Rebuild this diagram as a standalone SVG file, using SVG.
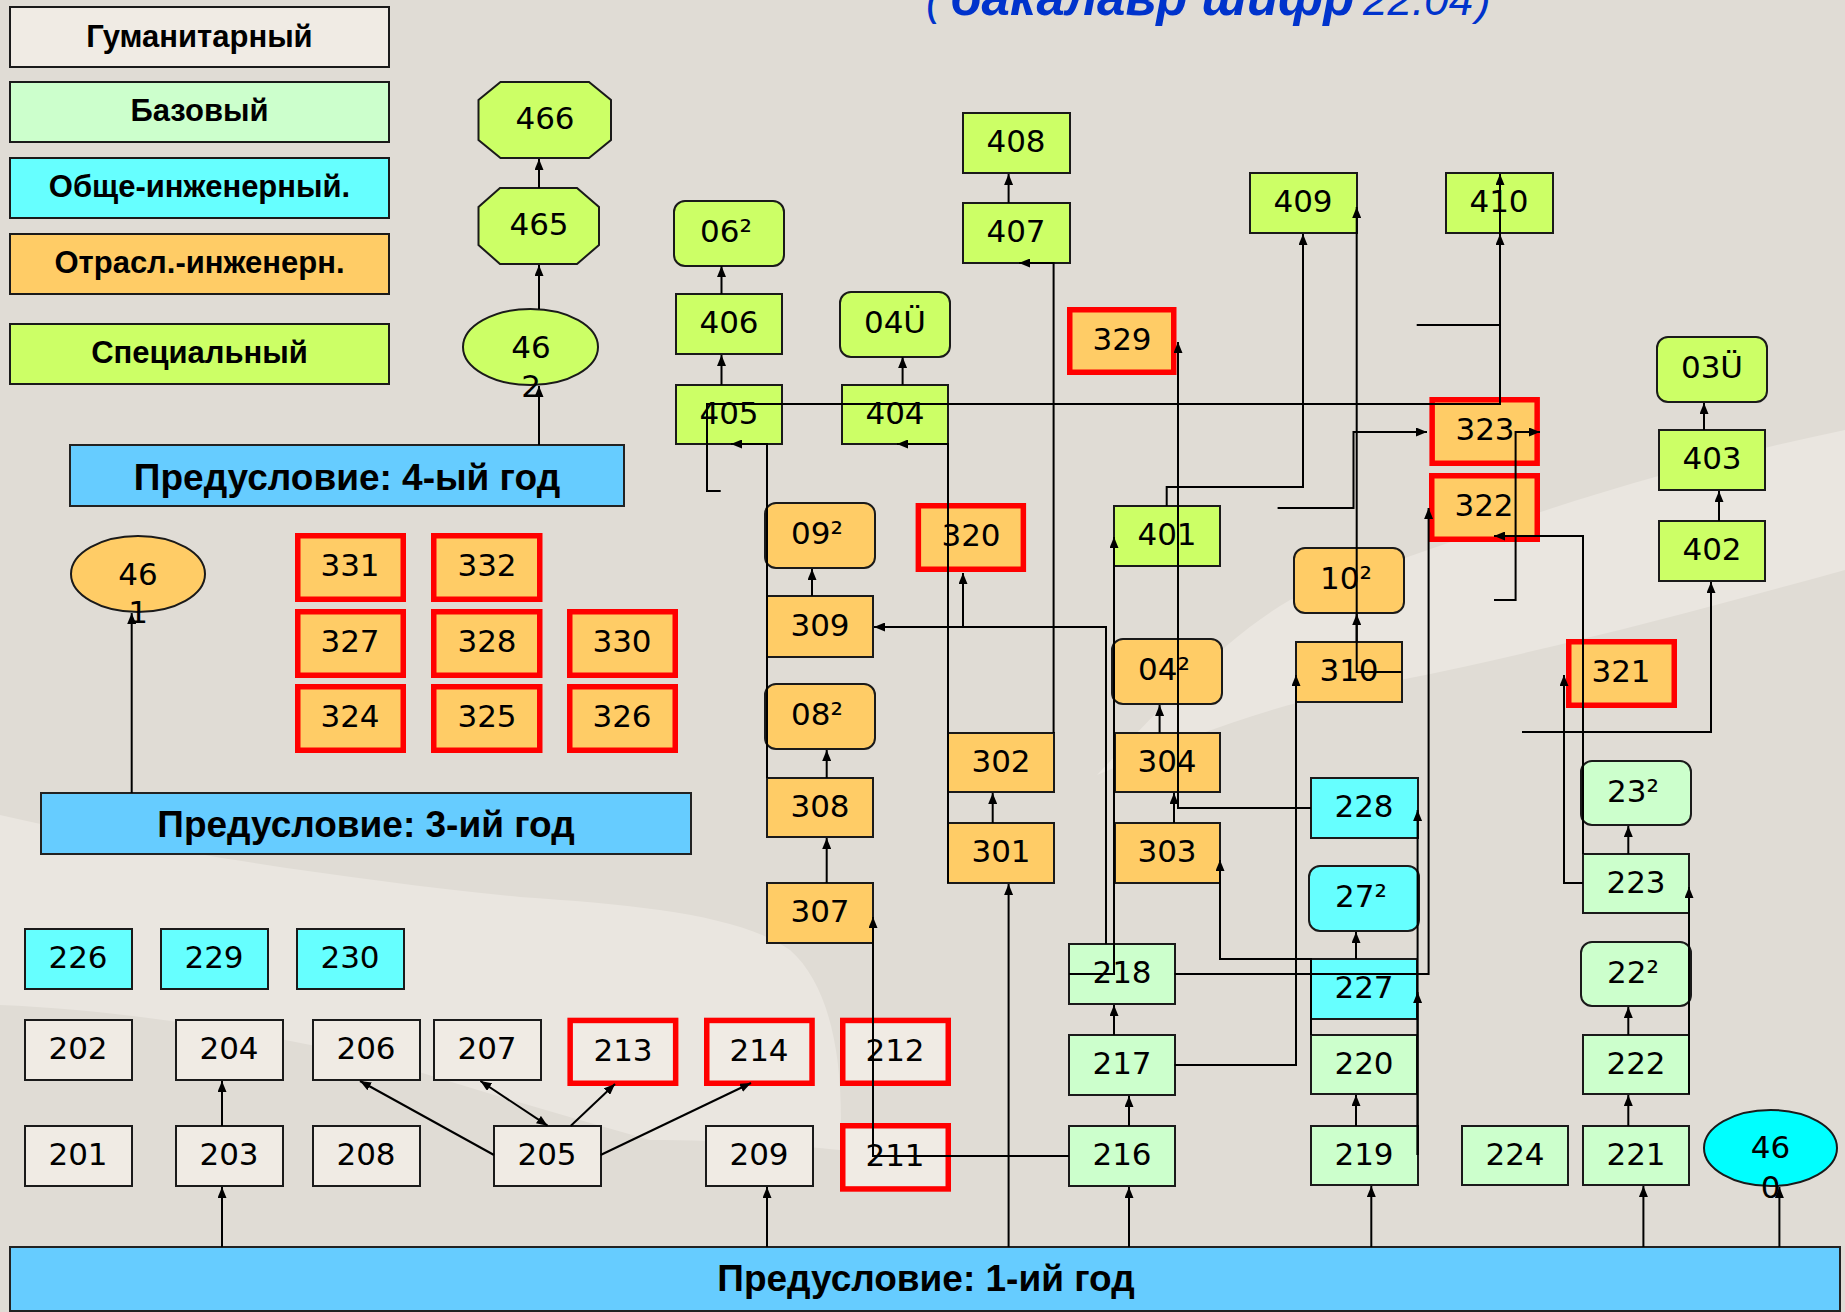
<svg xmlns="http://www.w3.org/2000/svg" width="1845" height="1312" viewBox="0 0 1845 1312">
<style>
.hum{fill:#F0EBE4}.base{fill:#CCFFCC}.gen{fill:#66FFFF}.ind{fill:#FFCC66}.spec{fill:#CCFF66}
.b{stroke:#1a1a1a;stroke-width:2}
.r{stroke:#FF0000;stroke-width:5.5}
.t{font-family:"DejaVu Sans",Verdana,sans-serif;font-size:31px;text-anchor:middle;fill:#000}
.lg{font-family:"Liberation Sans",Arial,sans-serif;font-weight:bold;font-size:31px;text-anchor:middle;fill:#000}
.bar{fill:#66CCFF;stroke:#222;stroke-width:2}
.bt{font-family:"Liberation Sans",Arial,sans-serif;font-weight:bold;font-size:37px;text-anchor:middle;fill:#000}
.c{fill:none;stroke:#000;stroke-width:2;marker-end:url(#ah)}
.s{fill:none;stroke:#000;stroke-width:2}
.d{fill:none;stroke:#000;stroke-width:2;marker-end:url(#ah);marker-start:url(#ah)}
</style>
<defs>
<marker id="ah" markerUnits="userSpaceOnUse" markerWidth="12" markerHeight="9" refX="11" refY="4.5" orient="auto-start-reverse"><path d="M0,0 L11,4.5 L0,9 z" fill="#000"/></marker>
</defs>
<rect x="0" y="0" width="1845" height="1312" fill="#E0DCD5"/>
<g id="background" fill="#EAE6E0">
<path d="M1097,775 C1150,720 1220,640 1290,600 C1450,540 1650,470 1845,430 L1845,570 C1700,610 1550,650 1400,680 C1280,700 1180,740 1097,775 Z"/>
<path d="M0,815 C150,850 350,880 520,897 C640,905 740,915 790,950 C830,985 845,1060 840,1150 C790,1145 720,1140 650,1140 C560,1115 470,1088 380,1060 C250,1030 120,1010 0,1005 Z"/>
</g>
<text x="926" y="15" font-family="Liberation Sans, Arial, sans-serif" font-size="44" font-style="italic" fill="#0033CC">(<tspan x="950" font-weight="bold" font-size="51">бакалавр шифр</tspan><tspan x="1363">22.04</tspan><tspan x="1476">)</tspan></text>

<g id="legend">
<g id="leg-hum"><rect class="hum b" x="10" y="7" width="379" height="60"/><text class="lg" x="199.5" y="47">Гуманитарный</text></g>
<g id="leg-base"><rect class="base b" x="10" y="82" width="379" height="60"/><text class="lg" x="199.5" y="121">Базовый</text></g>
<g id="leg-gen"><rect class="gen b" x="10" y="158" width="379" height="60"/><text class="lg" x="199.5" y="197">Обще-инженерный.</text></g>
<g id="leg-ind"><rect class="ind b" x="10" y="234" width="379" height="60"/><text class="lg" x="199.5" y="273">Отрасл.-инженерн.</text></g>
<g id="leg-spec"><rect class="spec b" x="10" y="324" width="379" height="60"/><text class="lg" x="199.5" y="363">Специальный</text></g>
</g>

<g id="bars">
<g id="bar4"><rect class="bar" x="70" y="445" width="554" height="61"/><text class="bt" x="347" y="490" font-size="38.5">Предусловие: 4-ый год</text></g>
<g id="bar3"><rect class="bar" x="41" y="793" width="650" height="61"/><text class="bt" x="366" y="837">Предусловие: 3-ий год</text></g>
<g id="bar1"><rect class="bar" x="10" y="1247" width="1830" height="64"/><text class="bt" x="926" y="1291">Предусловие: 1-ий год</text></g>
</g>

<g id="n466"><polygon class="spec b" points="500.5,82 589,82 611,100 611,140 589,158 500.5,158 478.5,140 478.5,100"/><text class="t" x="545" y="129">466</text></g>
<g id="n465"><polygon class="spec b" points="500,188 577,188 599,207 599,245 577,264 500,264 478.5,245 478.5,207"/><text class="t" x="539" y="235">465</text></g>
<g id="n462"><ellipse class="spec b" cx="530.5" cy="347" rx="67.5" ry="38"/><text class="t" x="531" y="358">46</text><text class="t" x="531" y="397">2</text></g>
<g id="n461"><ellipse class="ind b" cx="138" cy="574" rx="67" ry="38"/><text class="t" x="138" y="585">46</text><text class="t" x="138" y="623">1</text></g>
<g id="n460"><ellipse class="b" fill="#00FFFF" cx="1770.5" cy="1148" rx="66.5" ry="38"/><text class="t" x="1770.5" y="1158">46</text><text class="t" x="1770.5" y="1198">0</text></g>

<g id="n408"><rect class="spec b" x="963" y="113" width="107" height="60"/><text class="t" x="1016" y="152">408</text></g>
<g id="n407"><rect class="spec b" x="963" y="203" width="107" height="60"/><text class="t" x="1016" y="242">407</text></g>
<g id="n062"><rect class="spec b" x="674" y="201" width="110" height="65" rx="11"/><text class="t" x="726" y="242">06²</text></g>
<g id="n406"><rect class="spec b" x="676" y="294" width="106" height="60"/><text class="t" x="729" y="333">406</text></g>
<g id="n04U"><rect class="spec b" x="840" y="292" width="110" height="65" rx="11"/><text class="t" x="895" y="333">04Ü</text></g>
<g id="n405"><rect class="spec b" x="676" y="385" width="106" height="59"/><text class="t" x="729" y="424">405</text></g>
<g id="n404"><rect class="spec b" x="842" y="385" width="106" height="59"/><text class="t" x="895" y="424">404</text></g>
<g id="n409"><rect class="spec b" x="1250" y="173" width="107" height="60"/><text class="t" x="1303" y="212">409</text></g>
<g id="n410"><rect class="spec b" x="1446" y="173" width="107" height="60"/><text class="t" x="1499" y="212">410</text></g>
<g id="n03U"><rect class="spec b" x="1657" y="337" width="110" height="65" rx="11"/><text class="t" x="1712" y="378">03Ü</text></g>
<g id="n403"><rect class="spec b" x="1659" y="430" width="106" height="60"/><text class="t" x="1712" y="469">403</text></g>
<g id="n402"><rect class="spec b" x="1659" y="521" width="106" height="60"/><text class="t" x="1712" y="560">402</text></g>
<g id="n401"><rect class="spec b" x="1114" y="506" width="106" height="60"/><text class="t" x="1167" y="545">401</text></g>

<g id="n329"><rect class="ind r" x="1069.75" y="309.75" width="104" height="62.5"/><text class="t" x="1122" y="350">329</text></g>
<g id="n320"><rect class="ind r" x="918.35" y="505.75" width="105" height="63.5"/><text class="t" x="971" y="546">320</text></g>
<g id="n323"><rect class="ind r" x="1432.15" y="399.75" width="105" height="63.5"/><text class="t" x="1485" y="440">323</text></g>
<g id="n322"><rect class="ind r" x="1431.75" y="475.75" width="105.5" height="63.5"/><text class="t" x="1484" y="516">322</text></g>
<g id="n321"><rect class="ind r" x="1568.75" y="641.75" width="105.5" height="63.5"/><text class="t" x="1621" y="682">321</text></g>
<g id="n331"><rect class="ind r" x="297.75" y="535.75" width="105.5" height="63.5"/><text class="t" x="350" y="576">331</text></g>
<g id="n332"><rect class="ind r" x="433.75" y="535.75" width="106" height="63.5"/><text class="t" x="487" y="576">332</text></g>
<g id="n327"><rect class="ind r" x="297.75" y="611.75" width="105.5" height="63.5"/><text class="t" x="350" y="652">327</text></g>
<g id="n328"><rect class="ind r" x="433.75" y="611.75" width="106" height="63.5"/><text class="t" x="487" y="652">328</text></g>
<g id="n330"><rect class="ind r" x="569.75" y="611.75" width="105.5" height="63.5"/><text class="t" x="622" y="652">330</text></g>
<g id="n324"><rect class="ind r" x="297.75" y="686.75" width="105.5" height="63.5"/><text class="t" x="350" y="727">324</text></g>
<g id="n325"><rect class="ind r" x="433.75" y="686.75" width="106" height="63.5"/><text class="t" x="487" y="727">325</text></g>
<g id="n326"><rect class="ind r" x="569.75" y="686.75" width="105.5" height="63.5"/><text class="t" x="622" y="727">326</text></g>

<g id="n092"><rect class="ind b" x="765" y="503" width="110" height="65" rx="11"/><text class="t" x="817" y="544">09²</text></g>
<g id="n309"><rect class="ind b" x="767" y="596" width="106" height="61"/><text class="t" x="820" y="636">309</text></g>
<g id="n082"><rect class="ind b" x="765" y="684" width="110" height="65" rx="11"/><text class="t" x="817" y="725">08²</text></g>
<g id="n308"><rect class="ind b" x="767" y="778" width="106" height="59"/><text class="t" x="820" y="817">308</text></g>
<g id="n307"><rect class="ind b" x="767" y="883" width="106" height="60"/><text class="t" x="820" y="922">307</text></g>
<g id="n302"><rect class="ind b" x="948" y="733" width="106" height="59"/><text class="t" x="1001" y="772">302</text></g>
<g id="n301"><rect class="ind b" x="948" y="823" width="106" height="60"/><text class="t" x="1001" y="862">301</text></g>
<g id="n042"><rect class="ind b" x="1112" y="639" width="110" height="65" rx="11"/><text class="t" x="1164" y="680">04²</text></g>
<g id="n304"><rect class="ind b" x="1115" y="733" width="105" height="59"/><text class="t" x="1167" y="772">304</text></g>
<g id="n303"><rect class="ind b" x="1115" y="823" width="105" height="60"/><text class="t" x="1167" y="862">303</text></g>
<g id="n102"><rect class="ind b" x="1294" y="548" width="110" height="65" rx="11"/><text class="t" x="1346" y="589">10²</text></g>
<g id="n310"><rect class="ind b" x="1296" y="642" width="106" height="60"/><text class="t" x="1349" y="681">310</text></g>

<g id="n228"><rect class="gen b" x="1311" y="778" width="107" height="60"/><text class="t" x="1364" y="817">228</text></g>
<g id="n272"><rect class="gen b" x="1309" y="866" width="110" height="65" rx="11"/><text class="t" x="1361" y="907">27²</text></g>
<g id="n227"><rect class="gen b" x="1311" y="959" width="106" height="60"/><text class="t" x="1364" y="998">227</text></g>
<g id="n220"><rect class="base b" x="1311" y="1035" width="106" height="59"/><text class="t" x="1364" y="1074">220</text></g>
<g id="n219"><rect class="base b" x="1311" y="1126" width="107" height="59"/><text class="t" x="1364" y="1165">219</text></g>
<g id="n232"><rect class="base b" x="1581" y="761" width="110" height="64" rx="11"/><text class="t" x="1633" y="802">23²</text></g>
<g id="n223"><rect class="base b" x="1583" y="854" width="106" height="59"/><text class="t" x="1636" y="893">223</text></g>
<g id="n222s"><rect class="base b" x="1581" y="942" width="110" height="64" rx="11"/><text class="t" x="1633" y="983">22²</text></g>
<g id="n222"><rect class="base b" x="1583" y="1035" width="106" height="59"/><text class="t" x="1636" y="1074">222</text></g>
<g id="n221"><rect class="base b" x="1583" y="1126" width="106" height="59"/><text class="t" x="1636" y="1165">221</text></g>
<g id="n224"><rect class="base b" x="1462" y="1126" width="106" height="59"/><text class="t" x="1515" y="1165">224</text></g>
<g id="n218"><rect class="base b" x="1069" y="944" width="106" height="60"/><text class="t" x="1122" y="983">218</text></g>
<g id="n217"><rect class="base b" x="1069" y="1035" width="106" height="60"/><text class="t" x="1122" y="1074">217</text></g>
<g id="n216"><rect class="base b" x="1069" y="1126" width="106" height="60"/><text class="t" x="1122" y="1165">216</text></g>

<g id="n226"><rect class="gen b" x="25" y="929" width="107" height="60"/><text class="t" x="78" y="968">226</text></g>
<g id="n229"><rect class="gen b" x="161" y="929" width="107" height="60"/><text class="t" x="214" y="968">229</text></g>
<g id="n230"><rect class="gen b" x="297" y="929" width="107" height="60"/><text class="t" x="350" y="968">230</text></g>
<g id="n202"><rect class="hum b" x="25" y="1020" width="107" height="60"/><text class="t" x="78" y="1059">202</text></g>
<g id="n204"><rect class="hum b" x="176" y="1020" width="107" height="60"/><text class="t" x="229" y="1059">204</text></g>
<g id="n206"><rect class="hum b" x="313" y="1020" width="107" height="60"/><text class="t" x="366" y="1059">206</text></g>
<g id="n207"><rect class="hum b" x="434" y="1020" width="107" height="60"/><text class="t" x="487" y="1059">207</text></g>
<g id="n213"><rect class="hum r" x="570.15" y="1020.45" width="105.5" height="62.8"/><text class="t" x="623" y="1061">213</text></g>
<g id="n214"><rect class="hum r" x="706.75" y="1020.45" width="105.3" height="62.8"/><text class="t" x="759" y="1061">214</text></g>
<g id="n212"><rect class="hum r" x="842.75" y="1020.45" width="105.5" height="62.8"/><text class="t" x="895" y="1061">212</text></g>
<g id="n201"><rect class="hum b" x="25" y="1126" width="107" height="60"/><text class="t" x="78" y="1165">201</text></g>
<g id="n203"><rect class="hum b" x="176" y="1126" width="107" height="60"/><text class="t" x="229" y="1165">203</text></g>
<g id="n208"><rect class="hum b" x="313" y="1126" width="107" height="60"/><text class="t" x="366" y="1165">208</text></g>
<g id="n205"><rect class="hum b" x="494" y="1126" width="107" height="60"/><text class="t" x="547" y="1165">205</text></g>
<g id="n209"><rect class="hum b" x="706" y="1126" width="107" height="60"/><text class="t" x="759" y="1165">209</text></g>
<g id="n211"><rect class="hum r" x="842.75" y="1125.75" width="105.5" height="63.2"/><text class="t" x="895" y="1166">211</text></g>

<g id="connectors">
<path class="c" d="M539,445 V386"/>
<path class="c" d="M539,309 V265"/>
<path class="c" d="M539,188 V159"/>
<path class="c" d="M131.7,793 V613"/>
<path class="c" d="M721.5,294 V266"/>
<path class="c" d="M721.5,385 V355"/>
<path class="c" d="M902.6,385 V357"/>
<path class="c" d="M1008.6,203 V174"/>
<path class="c" d="M767,778 V444 H731"/>
<path class="c" d="M948,883 V444 H897"/>
<path class="c" d="M1053.6,733 V263 H1019"/>
<path class="c" d="M720.7,491 H707 V404 H1500 V234"/>
<path class="c" d="M1500,234 V174"/>
<path class="s" d="M1416.7,325 H1500"/>
<path class="c" d="M1166.7,506 V487 H1303 V234"/>
<path class="c" d="M1401.7,672 H1356.7 V207"/>
<path class="c" d="M1356.7,642 V614"/>
<path class="c" d="M1277.6,508 H1353.5 V432 H1427"/>
<path class="c" d="M1494,600 H1515.6 V432 H1540"/>
<path class="c" d="M1583,854 V536 H1494"/>
<path class="c" d="M1583,883 H1564 V675"/>
<path class="c" d="M1719,521 V491"/>
<path class="c" d="M1704,430 V403"/>
<path class="c" d="M1522,732 H1711 V582"/>
<path class="c" d="M1311,808 H1178 V342"/>
<path class="c" d="M1417.6,1155 V810"/>
<path class="c" d="M1417.6,1155 V992"/>
<path class="c" d="M1174.6,974 H1428.6 V508"/>
<path class="c" d="M1174.6,1065 H1296 V675"/>
<path class="c" d="M1311,1035 V959 H1220 V860"/>
<path class="c" d="M1356,959 V932"/>
<path class="c" d="M1356,1126 V1095"/>
<path class="c" d="M1106,944 V627 H874"/>
<path class="c" d="M963,627 V573"/>
<path class="c" d="M1069,974 H1114 V537"/>
<path class="c" d="M1159.6,733 V705"/>
<path class="c" d="M1174,823 V793"/>
<path class="c" d="M992.7,823 V793"/>
<path class="c" d="M812,596 V569"/>
<path class="c" d="M826.7,778 V750"/>
<path class="c" d="M826.7,883 V838"/>
<path class="c" d="M1069,1156 H873 V917"/>
<path class="c" d="M1008.6,1247 V884"/>
<path class="c" d="M1129,1247 V1187"/>
<path class="c" d="M1129,1126 V1096"/>
<path class="c" d="M1114,1035 V1005"/>
<path class="c" d="M1371.3,1247 V1186"/>
<path class="c" d="M1643.4,1247 V1186"/>
<path class="c" d="M1779.4,1247 V1187"/>
<path class="c" d="M1628.3,1126 V1095"/>
<path class="c" d="M1628.3,1035 V1007"/>
<path class="c" d="M1628.3,854 V826"/>
<path class="c" d="M1689,1094 V887"/>
<path class="c" d="M767,1247 V1187"/>
<path class="c" d="M222,1247 V1187"/>
<path class="c" d="M222,1126 V1081"/>
<path class="c" d="M494,1155 L360,1081"/>
<path class="d" d="M547.6,1125.7 L480.4,1081"/>
<path class="c" d="M570.6,1126 L615,1084"/>
<path class="c" d="M600.6,1155 L751,1083"/>
</g>
</svg>
